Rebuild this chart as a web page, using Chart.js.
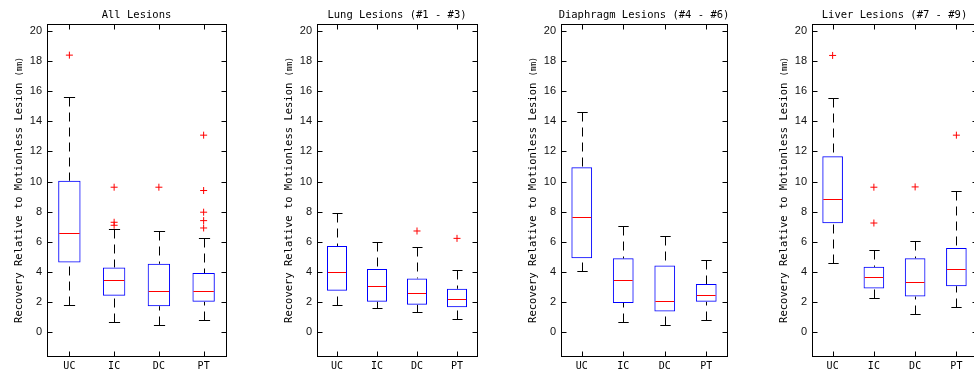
<!DOCTYPE html>
<html>
<head>
<meta charset="utf-8">
<script src="https://cdn.jsdelivr.net/npm/chart.js@4.4.0/dist/chart.umd.min.js"></script>
<style>
html, body { margin: 0; padding: 0; background: #fff; overflow: hidden; width: 974px; height: 374px; }
.panel { position: absolute; top: 0; }
</style>
</head>
<body>
<div class="panel" style="left:0px"><canvas id="c1" width="231" height="374"></canvas></div>
<div class="panel" style="left:270px"><canvas id="c2" width="212" height="374"></canvas></div>
<div class="panel" style="left:514px"><canvas id="c3" width="217" height="374"></canvas></div>
<div class="panel" style="left:765px"><canvas id="c4" width="217" height="374"></canvas></div>
<script>
// shared
const categories = ['UC', 'IC', 'DC', 'PT'];
const yTicks = [0, 2, 4, 6, 8, 10, 12, 14, 16, 18, 20];
const yLabel = 'Recovery Relative to Motionless Lesion ';
const yUnit = '(mm)';

// All lesions
const allLow = [1.8, 0.69, 0.47, 0.76];
const allQ1 = [4.62, 2.4, 1.71, 2.0];
const allMed = [6.56, 3.44, 2.69, 2.69];
const allQ3 = [10.05, 4.29, 4.53, 3.91];
const allHigh = [15.6, 6.84, 6.69, 6.24];
const allOut = [[18.4], [9.62, 7.29, 7.09], [9.62], [13.08, 9.4, 7.96, 7.4, 6.91]];

// Lung lesions
const lungLow = [1.8, 1.56, 1.31, 0.89];
const lungQ1 = [2.73, 2.0, 1.8, 1.64];
const lungMed = [4.0, 3.04, 2.62, 2.2];
const lungQ3 = [5.71, 4.18, 3.56, 2.87];
const lungHigh = [7.93, 6.0, 5.67, 4.13];
const lungOut = [[], [], [6.71], [6.22]];

// Diaphragm lesions
const diaLow = [4.04, 0.69, 0.47, 0.76];
const diaQ1 = [4.89, 1.93, 1.36, 2.0];
const diaMed = [7.64, 3.42, 2.04, 2.47];
const diaQ3 = [10.95, 4.89, 4.42, 3.18];
const diaHigh = [14.65, 7.02, 6.4, 4.8];
const diaOut = [[], [], [], []];

// Liver lesions
const livLow = [4.6, 2.27, 1.18, 1.65];
const livQ1 = [7.22, 2.89, 2.35, 3.04];
const livMed = [8.84, 3.64, 3.3, 4.21];
const livQ3 = [11.68, 4.33, 4.9, 5.58];
const livHigh = [15.55, 5.44, 6.07, 9.36];
const livOut = [[18.38], [9.62, 7.24], [9.64], [13.08]];

const monoFont = 'DejaVu Sans Mono';

function makePanel(id, title, low, q1, med, q3, high, out) {
  const outPts = [];
  out.forEach((vals, i) => vals.forEach(v => outPts.push({ x: categories[i], y: v })));

  const boxExtras = {
    id: 'boxExtras',
    afterDatasetsDraw(chart) {
      const ctx = chart.ctx, xs = chart.scales.x, ys = chart.scales.y;
      const bars = chart.getDatasetMeta(0).data;
      ctx.save();
      ctx.lineWidth = 1;
      categories.forEach((c, i) => {
        const cx = Math.round(xs.getPixelForValue(i)) + 0.5;
        const w = bars[i].width;
        const yHi = Math.round(ys.getPixelForValue(high[i])) + 0.5;
        const yLo = Math.round(ys.getPixelForValue(low[i])) + 0.5;
        const yQ3 = ys.getPixelForValue(q3[i]);
        const yQ1 = ys.getPixelForValue(q1[i]);
        // whiskers, dashed, from cap toward box
        ctx.strokeStyle = '#000';
        ctx.setLineDash([9, 6]);
        ctx.beginPath();
        ctx.moveTo(cx, yHi); ctx.lineTo(cx, yQ3);
        ctx.moveTo(cx, yLo); ctx.lineTo(cx, yQ1);
        ctx.stroke();
        // caps
        ctx.setLineDash([]);
        ctx.beginPath();
        ctx.moveTo(cx - w / 4, yHi); ctx.lineTo(cx + w / 4, yHi);
        ctx.moveTo(cx - w / 4, yLo); ctx.lineTo(cx + w / 4, yLo);
        ctx.stroke();
        // median
        const yM = Math.round(ys.getPixelForValue(med[i])) + 0.5;
        ctx.strokeStyle = '#ff0000';
        ctx.beginPath();
        ctx.moveTo(bars[i].x - w / 2 + 1, yM); ctx.lineTo(bars[i].x + w / 2 - 1, yM);
        ctx.stroke();
      });
      ctx.restore();
    },
    afterDraw(chart) {
      const ctx = chart.ctx, a = chart.chartArea, xs = chart.scales.x, ys = chart.scales.y;
      const L = Math.round(a.left) + 0.5, R = Math.round(a.right) + 0.5;
      const T = Math.round(a.top) + 0.5, B = Math.round(a.bottom) + 0.5;
      ctx.save();
      ctx.strokeStyle = '#000';
      ctx.lineWidth = 1;
      ctx.strokeRect(L, T, R - L, B - T);
      ctx.beginPath();
      yTicks.forEach(v => {
        const py = Math.round(ys.getPixelForValue(v)) + 0.5;
        ctx.moveTo(L, py); ctx.lineTo(L + 5, py);
        ctx.moveTo(R, py); ctx.lineTo(R - 5, py);
      });
      categories.forEach((c, i) => {
        const px = Math.round(xs.getPixelForValue(i)) + 0.5;
        ctx.moveTo(px, B); ctx.lineTo(px, B - 5);
        ctx.moveTo(px, T); ctx.lineTo(px, T + 5);
      });
      ctx.stroke();
      // title
      ctx.fillStyle = '#000';
      ctx.font = '10.5px "' + monoFont + '"';
      ctx.textAlign = 'center';
      ctx.textBaseline = 'alphabetic';
      ctx.fillText(title, (a.left + a.right) / 2, 17.5);
      // y label with smaller unit
      const cy = (a.top + a.bottom) / 2;
      ctx.translate(a.left - 25, cy);
      ctx.rotate(-Math.PI / 2);
      ctx.textAlign = 'left';
      const w1 = ctx.measureText(yLabel).width;
      ctx.font = '8px "' + monoFont + '"';
      const w2 = ctx.measureText(yUnit).width;
      const start = -(w1 + w2) / 2;
      ctx.font = '10.5px "' + monoFont + '"';
      ctx.fillText(yLabel, start, 0);
      ctx.font = '8px "' + monoFont + '"';
      ctx.fillText(yUnit, start + w1, 0);
      ctx.restore();
    }
  };

  return new Chart(document.getElementById(id), {
    type: 'bar',
    data: {
      labels: categories,
      datasets: [{
        data: categories.map((c, i) => [q1[i], q3[i]]),
        backgroundColor: 'rgba(0,0,0,0)',
        borderColor: '#0000ff',
        borderWidth: 1,
        borderSkipped: false,
        barPercentage: 0.5,
        categoryPercentage: 1.0
      }, {
        type: 'line',
        data: outPts,
        showLine: false,
        pointStyle: 'cross',
        pointRadius: 3.5,
        pointBorderWidth: 1,
        borderColor: '#ff0000',
        backgroundColor: '#ff0000'
      }]
    },
    options: {
      responsive: false,
      animation: false,
      layout: { padding: { top: 24, right: 4, left: 0, bottom: 0 } },
      plugins: { legend: { display: false }, tooltip: { enabled: false } },
      scales: {
        x: {
          offset: true,
          grid: { display: false, drawTicks: false },
          border: { display: false },
          ticks: { color: '#000', padding: 4, font: { family: monoFont, size: 10 } },
          afterFit: s => { s.height = 18; }
        },
        y: {
          min: -1.6,
          max: 20.47,
          grid: { display: false, drawTicks: false },
          border: { display: false },
          ticks: { color: '#111', padding: 5, font: { family: 'Liberation Sans', size: 11 } },
          afterBuildTicks: s => { s.ticks = yTicks.map(v => ({ value: v })); },
          afterFit: s => { s.width = 47; }
        }
      }
    },
    plugins: [boxExtras]
  });
}

makePanel('c1', 'All Lesions', allLow, allQ1, allMed, allQ3, allHigh, allOut);
makePanel('c2', 'Lung Lesions (#1 - #3)', lungLow, lungQ1, lungMed, lungQ3, lungHigh, lungOut);
makePanel('c3', 'Diaphragm Lesions (#4 - #6)', diaLow, diaQ1, diaMed, diaQ3, diaHigh, diaOut);
makePanel('c4', 'Liver Lesions (#7 - #9)', livLow, livQ1, livMed, livQ3, livHigh, livOut);
</script>
</body>
</html>
